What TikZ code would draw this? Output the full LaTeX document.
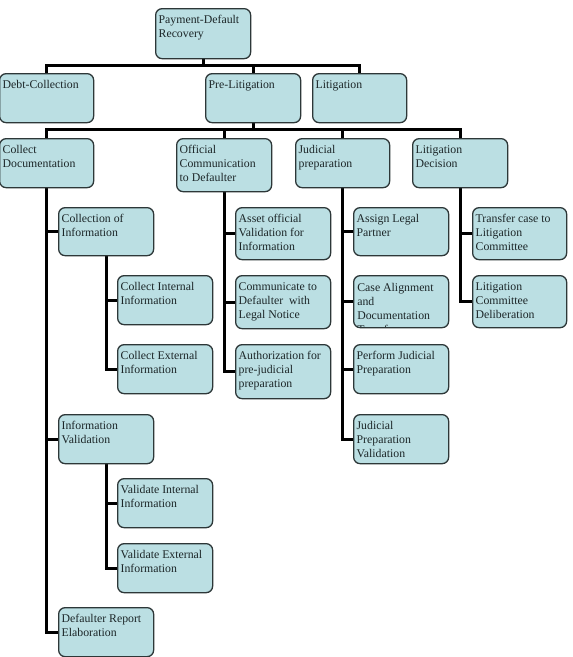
\documentclass[tikz,border=0pt]{standalone}
\usepackage{fontspec}
\setmainfont{Liberation Serif}
\usetikzlibrary{backgrounds}
\definecolor{boxfill}{RGB}{187,223,227}
\definecolor{boxline}{RGB}{45,55,56}
\definecolor{boxtext}{RGB}{28,38,40}
% text block of a box: width and height in pt, set from the top-left corner
\newcommand\cellbox[3]{\parbox[t][\dimexpr#2pt-8pt\relax][t]{\dimexpr#1pt-6pt\relax}{\raggedright\rule{0pt}{11pt}#3}}
\begin{document}
\begin{tikzpicture}[x=1pt,y=-1pt,
  box/.style={draw=boxline, fill=boxfill, line width=1.3pt, rounded corners=6.5pt,
    anchor=north west, inner xsep=3pt, inner ysep=4pt, text=boxtext,
    font=\fontsize{11.8}{14}\selectfont},
  conn/.style={draw=black, line width=3pt, line cap=rect}]
\useasboundingbox (0,0) rectangle (573,657);

% bus lines of the first two levels
\coordinate (bus0) at (0,65);
\coordinate (bus1) at (0,129.5);

% ---------- boxes: levels 0 to 2 ----------
\path
  node[box] (root)    at (155,8)   {\cellbox{95}{50}{Payment-Default\\Recovery}}
  node[box] (debt)    at (-1,73)   {\cellbox{94}{49}{Debt-Collection}}
  node[box] (prelit)  at (205,73)  {\cellbox{95}{49}{Pre-Litigation}}
  node[box] (litig)   at (312,73)  {\cellbox{94}{49}{Litigation}}
  node[box] (colldoc) at (-1,138)  {\cellbox{94}{49}{Collect\\Documentation}}
  node[box] (offcomm) at (176,138) {\cellbox{95}{53}{Official\\Communication\\to Defaulter}}
  node[box] (judprep) at (295,138) {\cellbox{94}{49}{Judicial\\preparation}}
  node[box] (litdec)  at (412,138) {\cellbox{95}{49}{Litigation\\Decision}};

% ---------- boxes: levels 3 and 4 ----------
\path
  node[box] (collinfo) at (58,207)  {\cellbox{95}{48}{Collection of\\Information}}
  node[box] (collint)  at (117,275) {\cellbox{95}{49}{Collect Internal\\Information}}
  node[box] (collext)  at (117,344) {\cellbox{95}{49}{Collect External\\Information}}
  node[box] (infoval)  at (58,414)  {\cellbox{95}{49}{Information\\Validation}}
  node[box] (valint)   at (117,478) {\cellbox{95}{49}{Validate Internal\\Information}}
  node[box] (valext)   at (117,543) {\cellbox{95}{49}{Validate External\\Information}}
  node[box] (defrep)   at (58,607)  {\cellbox{95}{49}{Defaulter Report\\Elaboration}}
  node[box] (asset)    at (235,207) {\cellbox{95}{52}{Asset official\\Validation for\\Information}}
  node[box] (commdef)  at (235,275) {\cellbox{95}{53}{Communicate to\\Defaulter\ \ with\\Legal Notice}}
  node[box] (authz)    at (235,344) {\cellbox{95}{54}{Authorization for\\pre-judicial\\preparation}}
  node[box] (assign)   at (353,207) {\cellbox{95}{48}{Assign Legal\\Partner}}
  node[box] (perform)  at (353,344) {\cellbox{95}{49}{Perform Judicial\\Preparation}}
  node[box] (jpval)    at (353,414) {\cellbox{95}{49}{Judicial\\Preparation\\Validation}}
  node[box] (transfer) at (472,207) {\cellbox{94}{52}{Transfer case to\\Litigation\\Committee}}
  node[box] (litcomm)  at (472,275) {\cellbox{94}{52}{Litigation\\Committee\\Deliberation}};

% this box holds more text than fits; it is cut off at the outline
\node[box, inner sep=0pt, minimum width=95pt, minimum height=52pt,
  path picture={\node[draw=none, fill=none, anchor=north west, inner xsep=3pt,
      inner ysep=4pt, text=boxtext, font=\fontsize{11.8}{14}\selectfont]
      (casealigntext) at (path picture bounding box.north west)
      {\cellbox{95}{52}{Case Alignment\\and\\Documentation\\Transfer}};}]
  (casealign) at (353,275) {};

% ---------- page and connectors, behind the boxes ----------
\begin{scope}[on background layer]
  \fill[white] (0,0) rectangle (573,657);
  % root to first level
  \draw[conn] (root.south) -- (root.south |- bus0);
  \draw[conn] (debt.north |- bus0) -- (litig.north |- bus0);
  \draw[conn] (debt.north |- bus0) -- (debt.north);
  \draw[conn] (prelit.north |- bus0) -- (prelit.north);
  \draw[conn] (litig.north |- bus0) -- (litig.north);
  % Pre-Litigation to second level
  \draw[conn] (prelit.south) -- (prelit.south |- bus1);
  \draw[conn] (colldoc.north |- bus1) -- (litdec.north |- bus1);
  \draw[conn] (colldoc.north |- bus1) -- (colldoc.north);
  \draw[conn] (offcomm.north |- bus1) -- (offcomm.north);
  \draw[conn] (judprep.north |- bus1) -- (judprep.north);
  \draw[conn] (litdec.north |- bus1) -- (litdec.north);
  % Collect Documentation
  \draw[conn] (colldoc.south) -- (colldoc.south |- defrep.west);
  \foreach \n in {collinfo,infoval,defrep}
    \draw[conn] (colldoc.south |- \n.west) -- (\n.west);
  % Collection of Information
  \draw[conn] (collinfo.south) -- (collinfo.south |- collext.west);
  \foreach \n in {collint,collext}
    \draw[conn] (collinfo.south |- \n.west) -- (\n.west);
  % Information Validation
  \draw[conn] (infoval.south) -- (infoval.south |- valext.west);
  \foreach \n in {valint,valext}
    \draw[conn] (infoval.south |- \n.west) -- (\n.west);
  % Official Communication to Defaulter
  \draw[conn] (offcomm.south) -- (offcomm.south |- authz.west);
  \foreach \n in {asset,commdef,authz}
    \draw[conn] (offcomm.south |- \n.west) -- (\n.west);
  % Judicial preparation
  \draw[conn] (judprep.south) -- (judprep.south |- jpval.west);
  \foreach \n in {assign,casealign,perform,jpval}
    \draw[conn] (judprep.south |- \n.west) -- (\n.west);
  % Litigation Decision
  \draw[conn] (litdec.south) -- (litdec.south |- litcomm.west);
  \foreach \n in {transfer,litcomm}
    \draw[conn] (litdec.south |- \n.west) -- (\n.west);
\end{scope}
\end{tikzpicture}
\end{document}
